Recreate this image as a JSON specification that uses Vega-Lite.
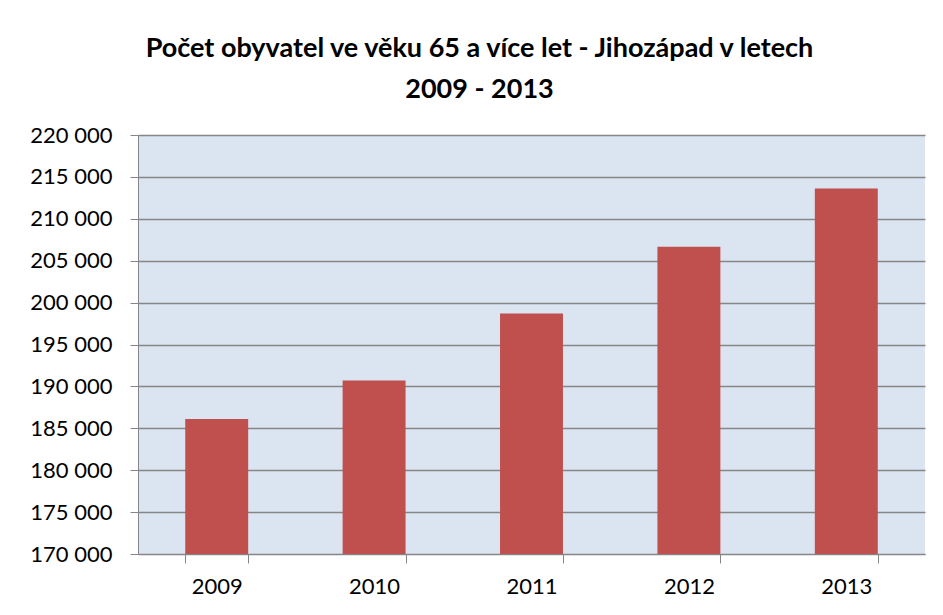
{
  "$schema": "https://vega.github.io/schema/vega-lite/v6.json",
  "autosize": "none",
  "width": 787,
  "height": 419,
  "padding": {"left": 138, "top": 135, "right": 18, "bottom": 61},
  "background": "white",
  "title": {
    "text": ["Počet obyvatel ve věku 65 a více let - Jihozápad v letech", "2009 - 2013"],
    "font": "Lato",
    "fontSize": 27,
    "fontWeight": "bold",
    "color": "#000000",
    "lineHeight": 41,
    "anchor": "middle",
    "dx": -52,
    "offset": 20
  },
  "data": {
    "values": [
      {"rok": "2009", "pocet": 186120},
      {"rok": "2010", "pocet": 190710},
      {"rok": "2011", "pocet": 198690},
      {"rok": "2012", "pocet": 206670},
      {"rok": "2013", "pocet": 213610}
    ]
  },
  "mark": {"type": "bar", "color": "#c0504d", "clip": true},
  "encoding": {
    "x": {
      "field": "rok",
      "type": "nominal",
      "scale": {"paddingInner": 0.6, "paddingOuter": 0.3},
      "axis": {
        "title": null,
        "labelAngle": 0,
        "tickBand": "extent",
        "tickSize": 9,
        "tickColor": "#868686",
        "domainColor": "#868686",
        "labelFont": "Lato",
        "labelFontSize": 22,
        "labelColor": "#000000",
        "labelPadding": 13,
        "grid": false
      }
    },
    "y": {
      "field": "pocet",
      "type": "quantitative",
      "scale": {"domain": [170000, 220000], "nice": false, "zero": false},
      "axis": {
        "title": null,
        "values": [170000, 175000, 180000, 185000, 190000, 195000, 200000, 205000, 210000, 215000, 220000],
        "labelExpr": "replace(format(datum.value, ',d'), ',', ' ')",
        "tickSize": 8,
        "tickColor": "#868686",
        "domainColor": "#868686",
        "gridColor": "#868686",
        "gridWidth": 1.5,
        "labelFont": "Lato",
        "labelFontSize": 22,
        "labelColor": "#000000",
        "labelPadding": 18
      }
    }
  },
  "config": {
    "view": {"fill": "#dbe5f1", "stroke": null}
  }
}
